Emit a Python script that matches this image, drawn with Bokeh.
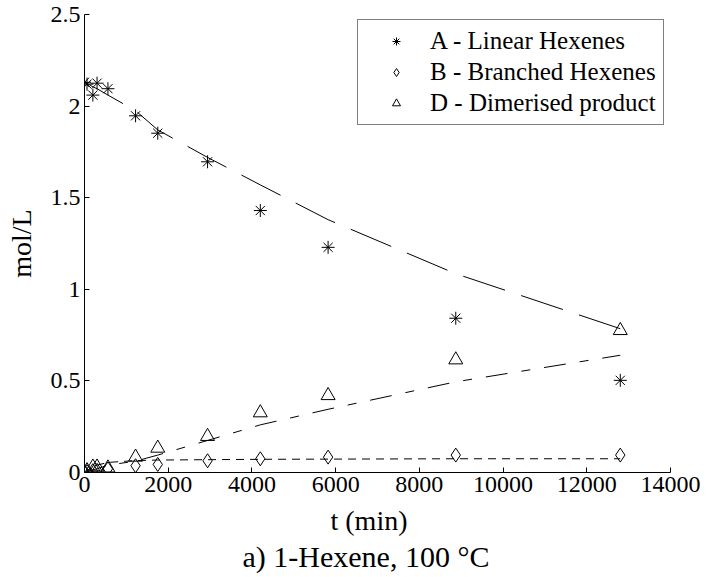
from bokeh.plotting import figure
from bokeh.models import Range1d, FixedTicker, Legend, LegendItem, Title
from bokeh.embed import file_html
from bokeh.resources import INLINE

# ---- data ----
t_data = [0, 60, 200, 300, 560, 1220, 1750, 2940, 4200, 5820, 8870, 12800]
A_data = [2.13, 2.12, 2.06, 2.125, 2.095, 1.947, 1.852, 1.696, 1.43, 1.229, 0.842, 0.503]
B_data = [0.0, 0.005, 0.01, 0.012, 0.02, 0.037, 0.044, 0.064, 0.075, 0.084, 0.095, 0.095]
D_data = [0.0, 0.01, 0.03, 0.03, 0.025, 0.084, 0.133, 0.197, 0.326, 0.42, 0.615, 0.775]

t_model = [0, 60, 200, 300, 560, 1220, 1750, 2940, 4200, 5820, 8870, 12800]
A_model = [2.13, 2.125, 2.105, 2.095, 2.06, 1.975, 1.87, 1.72, 1.57, 1.38, 1.085, 0.785]
B_model = [0.0, 0.01, 0.03, 0.04, 0.055, 0.065, 0.068, 0.07, 0.072, 0.073, 0.075, 0.075]
D_model = [0.0, 0.005, 0.015, 0.02, 0.04, 0.062, 0.095, 0.175, 0.26, 0.345, 0.495, 0.64]

x_ticks = [0, 2000, 4000, 6000, 8000, 10000, 12000, 14000]
y_ticks = [0, 0.5, 1, 1.5, 2, 2.5]
y_tick_labels = ["0", "0.5", "1", "1.5", "2", "2.5"]

labels = ["A - Linear Hexenes", "B - Branched Hexenes", "D - Dimerised product"]
x_label = "t (min)"
y_label = "mol/L"
caption = "a) 1-Hexene, 100 \u00b0C"

FONT = "'Liberation Serif', 'Times New Roman', serif"

p = figure(width=707, height=577, output_backend="svg", toolbar_location=None,
           x_range=Range1d(0, 14000), y_range=Range1d(0, 2.5),
           min_border_left=84, min_border_right=37, min_border_top=14,
           min_border_bottom=105)
p.outline_line_color = None
p.xgrid.grid_line_color = None
p.ygrid.grid_line_color = None
p.background_fill_color = "white"
p.border_fill_color = "white"

for ax in (p.xaxis[0], p.yaxis[0]):
    ax.major_tick_in = 5
    ax.major_tick_out = 0
    ax.minor_tick_line_color = None
    ax.axis_line_color = "black"
    ax.major_tick_line_color = "black"
    ax.major_label_text_font = FONT
    ax.major_label_text_font_size = "24px"
    ax.major_label_text_color = "black"
    ax.axis_label_text_font = FONT
    ax.axis_label_text_font_size = "28px"
    ax.axis_label_text_font_style = "normal"
    ax.axis_label_text_color = "black"

p.xaxis[0].ticker = FixedTicker(ticks=x_ticks)
p.yaxis[0].ticker = FixedTicker(ticks=y_ticks)
p.yaxis[0].major_label_overrides = {v: s for v, s in zip(y_ticks, y_tick_labels)}
p.xaxis[0].major_label_standoff = 4
p.yaxis[0].major_label_standoff = 4
p.yaxis[0].axis_label = y_label
p.yaxis[0].axis_label_standoff = 11

# model lines
p.line(t_model, A_model, line_color="black", line_width=1, line_dash="44 17")
p.line(t_model, B_model, line_color="black", line_width=1, line_dash="8 6")
p.line(t_model, D_model, line_color="black", line_width=1, line_dash="22 14 9 14")

# data markers
rA = p.scatter(t_data, A_data, marker="asterisk", size=13, line_color="black", line_width=1)
rB = p.scatter(t_data, B_data, marker="diamond", size=14, line_color="black",
               fill_color=None, line_width=1)
rD = p.scatter(t_data, D_data, marker="triangle", size=14, line_color="black",
               fill_color=None, line_width=1)

legend = Legend(items=[LegendItem(label=labels[0], renderers=[rA]),
                       LegendItem(label=labels[1], renderers=[rB]),
                       LegendItem(label=labels[2], renderers=[rD])],
                location=(273, 347), orientation="vertical",
                padding=7, spacing=3, margin=0,
                glyph_width=62, glyph_height=20, label_height=20,
                label_standoff=3,
                label_text_font=FONT, label_text_font_size="25px",
                label_text_color="black",
                border_line_color="black", border_line_width=1,
                background_fill_color="white", background_fill_alpha=1)
p.add_layout(legend, "center")

xl = Title(text=x_label, align="left", offset=246, text_font=FONT, text_font_size="28px",
           text_font_style="normal", text_color="black", standoff=16)
p.add_layout(xl, "below")
title = Title(text=caption, align="left", offset=158, text_font=FONT, text_font_size="30px",
              text_font_style="normal", text_color="black", standoff=-12)
p.add_layout(title, "below")

open("out.html", "w").write(file_html(p, INLINE))
